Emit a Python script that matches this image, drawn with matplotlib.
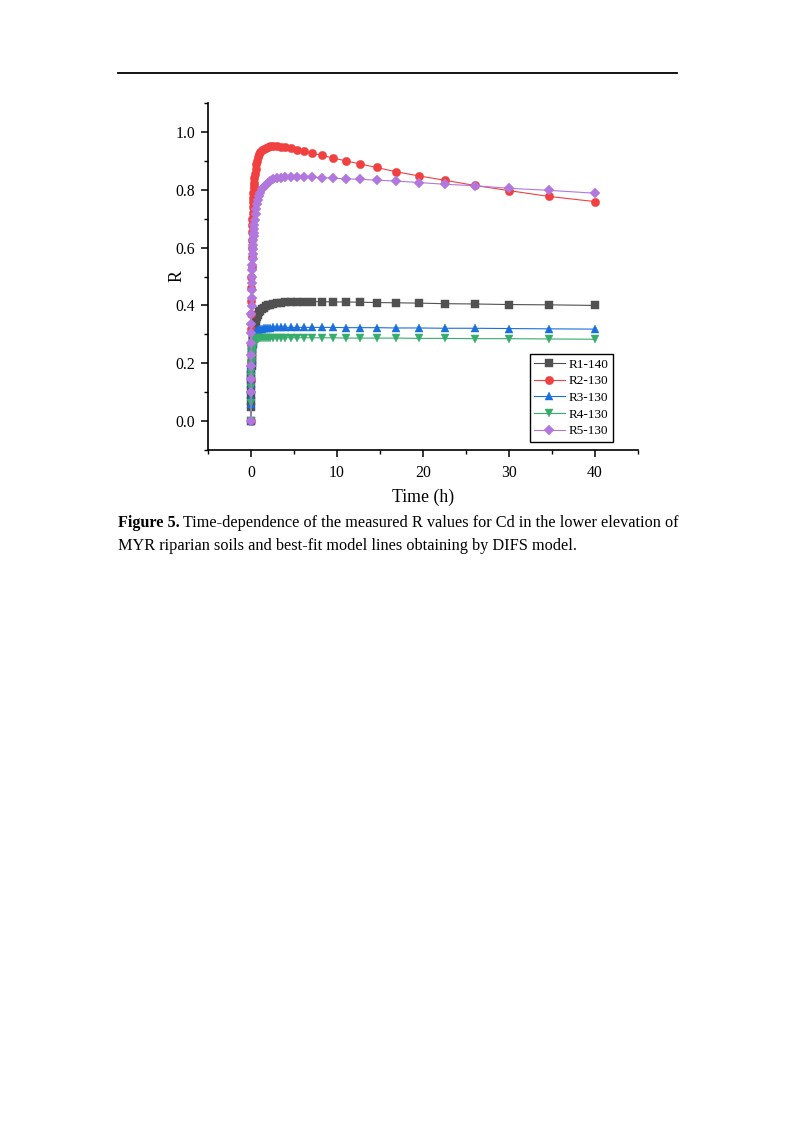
import matplotlib
matplotlib.use("Agg")
import matplotlib.pyplot as plt
from matplotlib.lines import Line2D
from matplotlib.ticker import MultipleLocator

plt.rcParams['font.family'] = ['Liberation Serif', 'DejaVu Serif']
plt.rcParams['mathtext.fontset'] = 'stix'

# ---------------- data ----------------
time_h = [0.0,
          0.0025, 0.0056, 0.0100, 0.0156, 0.0225, 0.0306, 0.0400, 0.0506,
          0.0625, 0.0756, 0.0900, 0.1056, 0.1225, 0.1406, 0.1600, 0.1806,
          0.2025, 0.2256, 0.2500, 0.2756, 0.3025, 0.3306, 0.3600,
          0.40, 0.46, 0.53, 0.62, 0.71, 0.82, 0.95, 1.10, 1.27, 1.46, 1.69,
          1.95, 2.25, 2.6, 3.0, 3.5, 4.0, 4.6, 5.4, 6.2,
          7.1, 8.2, 9.5, 11.0, 12.7, 14.6, 16.9, 19.5, 22.5, 26.0, 30.0, 34.6, 40.0]

r1_140 = [0.0,
          0.048, 0.069, 0.090, 0.109, 0.127, 0.144, 0.160, 0.175,
          0.189, 0.202, 0.215, 0.227, 0.238, 0.248, 0.258, 0.267,
          0.276, 0.284, 0.292, 0.299, 0.306, 0.312, 0.318,
          0.325, 0.335, 0.344, 0.353, 0.361, 0.368, 0.376, 0.382, 0.387, 0.392, 0.397,
          0.400, 0.403, 0.406, 0.408, 0.410, 0.411, 0.412, 0.413, 0.413,
          0.413, 0.413, 0.412, 0.412, 0.411, 0.410, 0.409, 0.408, 0.406, 0.405, 0.403, 0.402, 0.400]

r2_130 = [0.0,
          0.143, 0.207, 0.266, 0.320, 0.370, 0.416, 0.459, 0.498,
          0.534, 0.567, 0.598, 0.627, 0.653, 0.677, 0.699, 0.720,
          0.739, 0.757, 0.773, 0.788, 0.801, 0.814, 0.825,
          0.840, 0.856, 0.873, 0.888, 0.901, 0.912, 0.922, 0.930, 0.937, 0.942, 0.946,
          0.948, 0.950, 0.950, 0.950, 0.949, 0.947, 0.944, 0.939, 0.934,
          0.927, 0.919, 0.910, 0.900, 0.889, 0.877, 0.862, 0.848, 0.833, 0.815, 0.797, 0.777, 0.759]

r3_130 = [0.0,
          0.059, 0.084, 0.107, 0.127, 0.146, 0.163, 0.179, 0.192,
          0.205, 0.216, 0.226, 0.236, 0.244, 0.252, 0.259, 0.265,
          0.270, 0.275, 0.280, 0.284, 0.288, 0.292, 0.295,
          0.298, 0.303, 0.306, 0.310, 0.313, 0.315, 0.317, 0.319, 0.320, 0.321, 0.322,
          0.323, 0.323, 0.324, 0.324, 0.324, 0.324, 0.324, 0.324, 0.324,
          0.324, 0.324, 0.324, 0.323, 0.323, 0.323, 0.322, 0.322, 0.321, 0.321, 0.320, 0.319, 0.318]

r4_130 = [0.0,
          0.064, 0.090, 0.113, 0.134, 0.152, 0.168, 0.182, 0.194,
          0.205, 0.215, 0.224, 0.231, 0.238, 0.244, 0.249, 0.254,
          0.258, 0.261, 0.264, 0.267, 0.270, 0.272, 0.274,
          0.276, 0.278, 0.281, 0.282, 0.284, 0.285, 0.286, 0.286, 0.287, 0.287, 0.287,
          0.288, 0.288, 0.288, 0.288, 0.288, 0.288, 0.288, 0.288, 0.288,
          0.288, 0.288, 0.288, 0.287, 0.287, 0.287, 0.287, 0.286, 0.286, 0.285, 0.285, 0.284, 0.283]

r5_130 = [0.0,
          0.101, 0.147, 0.190, 0.230, 0.269, 0.304, 0.337, 0.369,
          0.399, 0.426, 0.452, 0.476, 0.500, 0.521, 0.541, 0.560,
          0.578, 0.594, 0.610, 0.625, 0.639, 0.652, 0.664,
          0.678, 0.697, 0.715, 0.734, 0.749, 0.764, 0.778, 0.790, 0.801, 0.810, 0.818,
          0.825, 0.831, 0.836, 0.839, 0.842, 0.844, 0.845, 0.845, 0.844,
          0.843, 0.842, 0.840, 0.838, 0.836, 0.833, 0.830, 0.825, 0.819, 0.814, 0.805, 0.798, 0.788]

series_labels = ['R1-140', 'R2-130', 'R3-130', 'R4-130', 'R5-130']
series_values = [r1_140, r2_130, r3_130, r4_130, r5_130]
series_colors = ['#515151', '#F14040', '#1A6FDF', '#37AD6B', '#B177DE']
series_markers = ['s', 'o', '^', 'v', 'D']
series_msize = [5.4, 6.0, 6.0, 6.0, 5.2]

x_ticks = [0, 10, 20, 30, 40]
y_ticks = [0.0, 0.2, 0.4, 0.6, 0.8, 1.0]

# ---------------- figure ----------------
W, H = 793, 1122
fig = plt.figure(figsize=(W / 100, H / 100), dpi=100)

ax_l, ax_r, ax_t, ax_b = 208, 638, 103, 450
ax = fig.add_axes([ax_l / W, 1 - ax_b / H, (ax_r - ax_l) / W, (ax_b - ax_t) / H])

for vals, lab, col, mk, ms in zip(series_values, series_labels, series_colors,
                                  series_markers, series_msize):
    ax.plot(time_h, vals, color=col, lw=0.8, marker=mk, markersize=ms,
            markerfacecolor=col, markeredgecolor=col, markeredgewidth=0.3,
            label=lab)

ax.set_xlim(-5, 45)
ax.set_ylim(-0.1, 1.1)
ax.set_xticks(x_ticks)
ax.set_xticklabels([str(v) for v in x_ticks])
ax.set_yticks(y_ticks)
ax.set_yticklabels([f"{v:.1f}" for v in y_ticks])
ax.xaxis.set_minor_locator(MultipleLocator(5))
ax.yaxis.set_minor_locator(MultipleLocator(0.1))

for s in ['top', 'right']:
    ax.spines[s].set_visible(False)
for s in ['left', 'bottom']:
    ax.spines[s].set_linewidth(1.2)
    ax.spines[s].set_color('black')

ax.tick_params(axis='both', which='major', direction='out', length=5, width=1.1,
               labelsize=11.3, colors='black')
ax.tick_params(axis='both', which='minor', direction='out', length=3, width=1.0)
ax.tick_params(axis='x', which='major', pad=6)
ax.tick_params(axis='y', which='major', pad=4)

ax.set_xlabel('Time (h)', fontsize=12.8, labelpad=5)
ax.set_ylabel('R', fontsize=12.8, labelpad=-7)

leg = ax.legend(loc='upper right', bbox_to_anchor=((613 - ax_l) / (ax_r - ax_l), (ax_b - 354) / (ax_b - ax_t)),
                fontsize=9.5, frameon=True, fancybox=False, framealpha=1,
                edgecolor='black', handlelength=2.3, handletextpad=0.3,
                labelspacing=0.33, borderpad=0.35, borderaxespad=0.0)
leg.get_frame().set_linewidth(1.0)

# header rule
fig.add_artist(Line2D([118 / W, 677 / W], [1 - 73 / H, 1 - 73 / H],
                      color='black', lw=1.3, transform=fig.transFigure))

# caption
cap_fs = 11.7
fig.canvas.draw()
renderer = fig.canvas.get_renderer()
t1 = fig.text(118 / W, 1 - 527 / H, 'Figure 5.', fontsize=cap_fs, fontweight='bold',
              ha='left', va='baseline')
bb = t1.get_window_extent(renderer=renderer)
fig.text((bb.x1 + 3) / W, 1 - 527 / H,
         'Time-dependence of the measured R values for Cd in the lower elevation of',
         fontsize=cap_fs, ha='left', va='baseline')
fig.text(118 / W, 1 - 550 / H,
         'MYR riparian soils and best-fit model lines obtaining by DIFS model.',
         fontsize=cap_fs, ha='left', va='baseline')

fig.savefig('out.png', dpi=100)
